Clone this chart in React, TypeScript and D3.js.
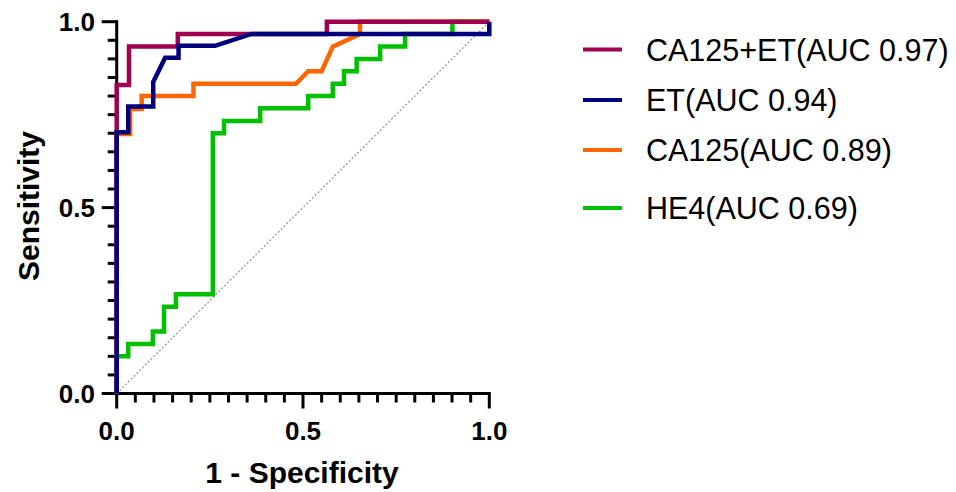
import React from "react";
import * as d3 from "d3";

// ROC curve data (1 - specificity, sensitivity)
const comboFpr = [0, 0, 0.033, 0.033, 0.164, 0.164, 0.564, 0.564, 1];
const comboTpr = [0, 0.83, 0.83, 0.933, 0.933, 0.967, 0.967, 1, 1];

const etFpr = [0, 0, 0.031, 0.031, 0.098, 0.098, 0.13, 0.166, 0.166, 0.264, 0.362, 1, 1];
const etTpr = [0, 0.703, 0.703, 0.772, 0.772, 0.838, 0.903, 0.903, 0.935, 0.935, 0.967, 0.967, 1];

const caFpr = [0, 0, 0.036, 0.036, 0.067, 0.067, 0.206, 0.206, 0.481, 0.514, 0.55, 0.58, 0.653, 0.653, 1];
const caTpr = [0, 0.698, 0.698, 0.765, 0.765, 0.8, 0.8, 0.833, 0.833, 0.867, 0.867, 0.933, 0.967, 1, 1];

const he4Fpr = [0, 0, 0.031, 0.031, 0.097, 0.097, 0.127, 0.127, 0.159, 0.159, 0.258, 0.258, 0.288, 0.288, 0.385, 0.385, 0.514, 0.514, 0.58, 0.58, 0.61, 0.61, 0.644, 0.644, 0.707, 0.707, 0.774, 0.774, 0.901, 0.901, 1];
const he4Tpr = [0, 0.1, 0.1, 0.133, 0.133, 0.167, 0.167, 0.233, 0.233, 0.267, 0.267, 0.7, 0.7, 0.733, 0.733, 0.767, 0.767, 0.8, 0.8, 0.833, 0.833, 0.867, 0.867, 0.9, 0.9, 0.933, 0.933, 0.967, 0.967, 1, 1];

const seriesNames = ["CA125+ET(AUC 0.97)", "ET(AUC 0.94)", "CA125(AUC 0.89)", "HE4(AUC 0.69)"];
const seriesColors = ["#A0004F", "#00007F", "#FF6600", "#00C000"];

const majorTicks = [0, 0.5, 1];
const tickLabels = ["0.0", "0.5", "1.0"];
const minorTicks = d3.range(0, 21).map((i) => i * 0.05);

export default function App() {
  const x = d3.scaleLinear().domain([0, 1]).range([116.7, 489.3]);
  const y = d3.scaleLinear().domain([0, 1]).range([393.5, 21.7]);
  const line = d3
    .line<[number, number]>()
    .x((d) => x(d[0]))
    .y((d) => y(d[1]));

  const series = [
    { fpr: comboFpr, tpr: comboTpr },
    { fpr: etFpr, tpr: etTpr },
    { fpr: caFpr, tpr: caTpr },
    { fpr: he4Fpr, tpr: he4Tpr },
  ];
  const drawOrder = [3, 2, 0, 1];
  const legendY = [49.5, 100, 150, 208];
  const font = "'Liberation Sans', Arial, Helvetica, sans-serif";

  return (
    <svg
      width={956}
      height={492}
      style={{ position: "absolute", left: 0, top: 0, background: "#fff" }}
      fontFamily={font}
    >
      <rect width={956} height={492} fill="#fff" />
      {/* diagonal reference */}
      <line
        x1={x(0)}
        y1={y(0)}
        x2={x(1)}
        y2={y(1)}
        stroke="#999"
        strokeWidth={1.3}
        strokeDasharray="2,2"
      />
      {/* axes */}
      <g stroke="#000" strokeWidth={3}>
        <line x1={x(0)} x2={x(1) + 1.5} y1={y(0)} y2={y(0)} />
        <line x1={x(0)} x2={x(0)} y1={y(0)} y2={y(1) - 1.5} />
        {minorTicks.map((t, i) => {
          const major = i % 10 === 0;
          const len = major ? 15 : 9;
          return (
            <g key={i}>
              <line x1={x(t)} x2={x(t)} y1={y(0)} y2={y(0) + len} />
              <line x1={x(0)} x2={x(0) - len} y1={y(t)} y2={y(t)} />
            </g>
          );
        })}
      </g>
      {/* tick labels */}
      <g fontWeight="bold" fontSize={26} fill="#000">
        {majorTicks.map((t, i) => (
          <text key={"x" + i} x={x(t)} y={440} textAnchor="middle">
            {tickLabels[i]}
          </text>
        ))}
        {majorTicks.map((t, i) => (
          <text key={"y" + i} x={95} y={y(t) + 9} textAnchor="end">
            {tickLabels[i]}
          </text>
        ))}
      </g>
      {/* axis titles */}
      <text x={302} y={483} textAnchor="middle" fontWeight="bold" fontSize={30}>
        1 - Specificity
      </text>
      <text
        transform={`translate(39,206) rotate(-90)`}
        textAnchor="middle"
        fontWeight="bold"
        fontSize={30}
      >
        Sensitivity
      </text>
      {/* curves */}
      {drawOrder.map((k) => {
        const s = series[k];
        const pts = s.fpr.map((f, i) => [f, s.tpr[i]] as [number, number]);
        return (
          <path
            key={k}
            d={line(pts) || ""}
            fill="none"
            stroke={seriesColors[k]}
            strokeWidth={4.5}
            strokeLinejoin="miter"
            strokeLinecap="butt"
          />
        );
      })}
      {/* legend */}
      {seriesNames.map((name, i) => (
        <g key={name}>
          <line
            x1={583}
            x2={622}
            y1={legendY[i]}
            y2={legendY[i]}
            stroke={seriesColors[i]}
            strokeWidth={4}
          />
          <text x={646} y={legendY[i] + 11} fontSize={30.5} fill="#000">
            {name}
          </text>
        </g>
      ))}
    </svg>
  );
}
